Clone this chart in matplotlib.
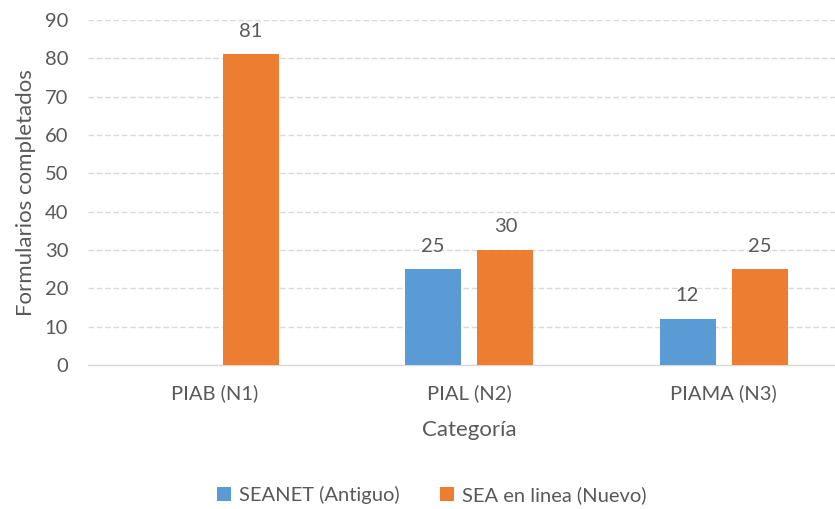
import matplotlib.pyplot as plt
import numpy as np

categories = ["PIAB (N1)", "PIAL (N2)", "PIAMA (N3)"]
seanet = [None, 25, 12]
sea_linea = [81, 30, 25]
series_names = ["SEANET (Antiguo)", "SEA en linea (Nuevo)"]

plt.rcParams['font.family'] = ['Lato', 'DejaVu Sans']
txt = '#595959'

fig = plt.figure(figsize=(8.35, 5.09), dpi=100)
ax = fig.add_axes([0.105, 0.283, 0.914, 0.678])

x = np.arange(len(categories))
off = 0.142
w = 0.22
blue_vals = [v if v is not None else 0 for v in seanet]
b1 = ax.bar(x - off, blue_vals, w, color='#5B9BD5', label=series_names[0], zorder=3)
b2 = ax.bar(x + off, sea_linea, w, color='#ED7D31', label=series_names[1], zorder=3)

for xi, v in zip(x, seanet):
    if v is not None:
        ax.text(xi - off, v + 6, str(v), ha='center', va='center', fontsize=14.5, color=txt)
for xi, v in zip(x, sea_linea):
    ax.text(xi + off, v + 6, str(v), ha='center', va='center', fontsize=14.5, color=txt)

ax.set_xlim(-0.5, 2.5)
ax.set_ylim(0, 90)
ax.set_yticks(range(0, 91, 10))
ax.set_xticks(x)
ax.set_xticklabels(categories)
ax.tick_params(axis='both', length=0, labelsize=14.5, labelcolor=txt)
ax.tick_params(axis='x', pad=14)
ax.tick_params(axis='y', pad=14)
ax.yaxis.grid(True, linestyle=(0, (4, 2)), color='#D9D9D9', linewidth=1, zorder=0)
for s in ['top', 'right', 'left']:
    ax.spines[s].set_visible(False)
ax.spines['bottom'].set_color('#D9D9D9')
ax.spines['bottom'].set_linewidth(1)

ax.set_xlabel("Categoría", fontsize=16, color=txt, labelpad=13)
ax.set_ylabel("Formularios completados", fontsize=16, color=txt, labelpad=6)

fig.legend(handles=[b1, b2], labels=series_names, loc='center', bbox_to_anchor=(432 / 835, 1 - 495 / 509),
           ncol=2, frameon=False, fontsize=14.5, handlelength=0.7, handleheight=0.7,
           columnspacing=2.0, handletextpad=0.4, labelcolor=txt)

fig.savefig("out.png", dpi=100)
